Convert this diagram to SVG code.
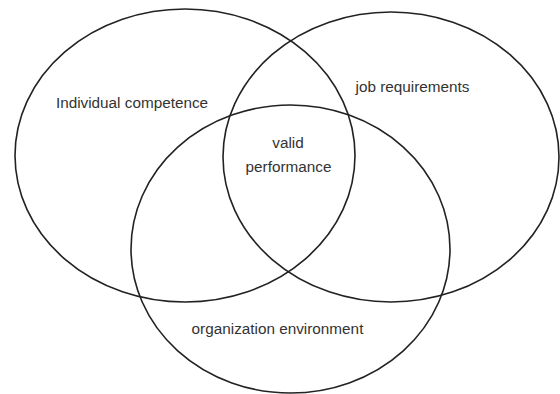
<svg xmlns="http://www.w3.org/2000/svg" width="560" height="394" viewBox="0 0 560 394">
<style>
.c{fill:none;stroke:#222;stroke-width:1.6}
.t{font-family:"Liberation Sans",Arial,sans-serif;font-size:15.3px;fill:#333;text-anchor:middle}
</style>
<rect width="560" height="394" fill="#fff"/>
<g id="individual">
<ellipse class="c" cx="185" cy="155.5" rx="170" ry="146.5"/>
<text class="t" x="132" y="108">Individual competence</text>
</g>
<g id="job">
<ellipse class="c" cx="391" cy="157" rx="168" ry="145"/>
<text class="t" x="412.5" y="92">job requirements</text>
</g>
<g id="organization">
<ellipse class="c" cx="290.5" cy="249" rx="159.5" ry="144"/>
<text class="t" x="277.5" y="334">organization environment</text>
</g>
<g id="valid">
<text class="t" x="288" y="148">valid</text>
<text class="t" x="288.5" y="172">performance</text>
</g>
</svg>
